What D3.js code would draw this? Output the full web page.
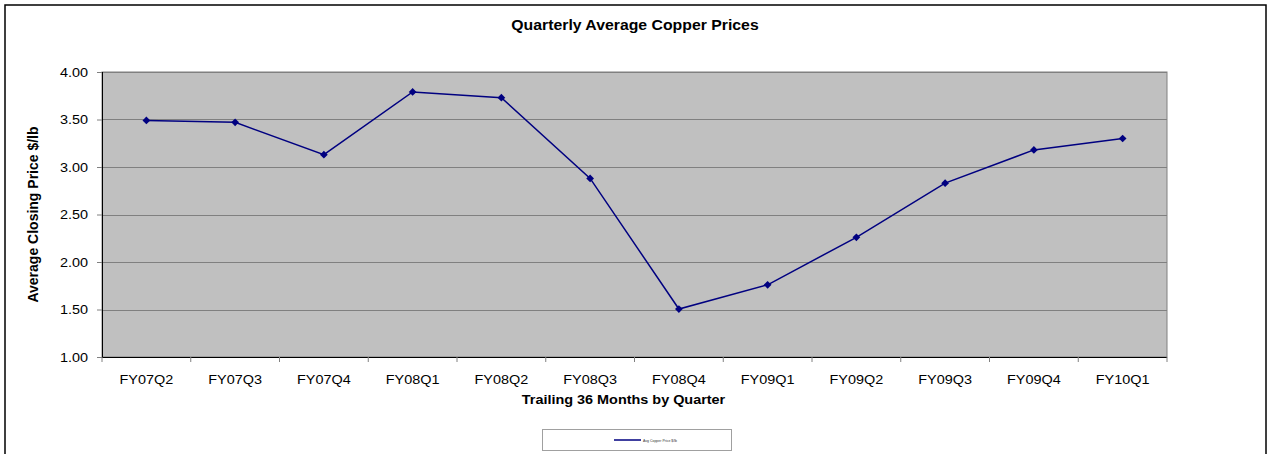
<!DOCTYPE html>
<html>
<head>
<meta charset="utf-8">
<script src="https://cdn.jsdelivr.net/npm/d3@7"></script>
<style>
  body { margin: 0; background: #fff; }
  text { font-family: "Liberation Sans", Arial, sans-serif; }
</style>
</head>
<body>
<script>
var quarters = ["FY07Q2", "FY07Q3", "FY07Q4", "FY08Q1", "FY08Q2", "FY08Q3",
                "FY08Q4", "FY09Q1", "FY09Q2", "FY09Q3", "FY09Q4", "FY10Q1"];
var prices = [3.49, 3.47, 3.13, 3.79, 3.73, 2.88, 1.505, 1.76, 2.26, 2.83, 3.18, 3.30];
var yTicks = [1.00, 1.50, 2.00, 2.50, 3.00, 3.50, 4.00];

var width = 1270, height = 454;
var plotLeft = 102, plotRight = 1167, plotTop = 72, plotBottom = 357;
var stretch = 1.11; // text in the original looks a bit wide

var svg = d3.select("body")
    .append("svg")
    .attr("width", width)
    .attr("height", height);

// outer chart border
svg.append("rect")
    .attr("x", 5).attr("y", 5)
    .attr("width", 1261).attr("height", 460)
    .attr("fill", "#fff")
    .attr("stroke", "#000")
    .attr("stroke-width", 1.5);

var x = d3.scaleBand().domain(quarters).range([plotLeft, plotRight]);
var y = d3.scaleLinear().domain([1, 4]).range([plotBottom, plotTop]);

svg.append("rect")
    .attr("x", plotLeft).attr("y", plotTop)
    .attr("width", plotRight - plotLeft).attr("height", plotBottom - plotTop)
    .attr("fill", "#c0c0c0")
    .attr("stroke", "#808080")
    .attr("stroke-width", 1);

svg.append("g")
    .selectAll("line")
    .data(yTicks)
    .enter()
    .append("line")
    .attr("x1", plotLeft).attr("x2", plotRight)
    .attr("y1", function(d) { return Math.round(y(d)) + 0.5; })
    .attr("y2", function(d) { return Math.round(y(d)) + 0.5; })
    .attr("stroke", "#808080")
    .attr("stroke-width", 1.2);

var yAxis = svg.append("g")
    .attr("transform", "translate(" + plotLeft + ",0)")
    .call(d3.axisLeft(y).tickValues(yTicks).tickSize(5).tickPadding(7.5)
        .tickFormat(d3.format(".2f")));
yAxis.select(".domain").attr("stroke", "#000").attr("d", "M0.5," + plotTop + "V" + plotBottom);
yAxis.selectAll("line").attr("stroke", "#808080");
yAxis.selectAll("text").attr("font-size", "13px").attr("fill", "#000")
    .attr("font-family", "Liberation Sans, Arial, sans-serif")
    .attr("transform", "scale(" + stretch + ",1)");

var xAxis = svg.append("g")
    .attr("transform", "translate(0," + plotBottom + ")");
xAxis.append("line")
    .attr("x1", plotLeft).attr("x2", plotRight)
    .attr("y1", 0.5).attr("y2", 0.5)
    .attr("stroke", "#000");
xAxis.selectAll(".tk")
    .data(quarters.concat(["end"]))
    .enter()
    .append("line")
    .attr("class", "tk")
    .attr("x1", function(d, i) { return i < quarters.length ? x(d) : plotRight; })
    .attr("x2", function(d, i) { return i < quarters.length ? x(d) : plotRight; })
    .attr("y1", 0).attr("y2", 5)
    .attr("stroke", "#808080");
xAxis.selectAll("text")
    .data(quarters)
    .enter()
    .append("text")
    .attr("transform", function(d) {
        return "translate(" + (x(d) + x.bandwidth() / 2) + ",27) scale(" + stretch + ",1)";
    })
    .attr("text-anchor", "middle")
    .attr("font-size", "13px")
    .text(function(d) { return d; });

var line = d3.line()
    .x(function(d, i) { return x(quarters[i]) + x.bandwidth() / 2; })
    .y(function(d) { return y(d); });

svg.append("path")
    .datum(prices)
    .attr("d", line)
    .attr("fill", "none")
    .attr("stroke", "#000080")
    .attr("stroke-width", 1.5);

svg.selectAll(".pt")
    .data(prices)
    .enter()
    .append("path")
    .attr("class", "pt")
    .attr("d", d3.symbol().type(d3.symbolSquare).size(30))
    .attr("transform", function(d, i) {
        return "translate(" + (x(quarters[i]) + x.bandwidth() / 2) + "," + y(d) + ") rotate(45)";
    })
    .attr("fill", "#000080");

svg.append("text")
    .attr("transform", "translate(635,30) scale(1.13,1)")
    .attr("text-anchor", "middle")
    .attr("font-size", "14px")
    .attr("font-weight", "bold")
    .text("Quarterly Average Copper Prices");

svg.append("text")
    .attr("transform", "translate(38," + ((plotTop + plotBottom) / 2) + ") rotate(-90)")
    .attr("text-anchor", "middle")
    .attr("font-size", "14px")
    .attr("font-weight", "bold")
    .text("Average Closing Price $/lb");

svg.append("text")
    .attr("transform", "translate(" + ((plotLeft + plotRight) / 2 - 11) + ",404) scale(" + stretch + ",1)")
    .attr("text-anchor", "middle")
    .attr("font-size", "13px")
    .attr("font-weight", "bold")
    .text("Trailing 36 Months by Quarter");

// legend
var legend = svg.append("g");
legend.append("rect")
    .attr("x", 542.5).attr("y", 429.5)
    .attr("width", 189).attr("height", 21)
    .attr("fill", "#fff")
    .attr("stroke", "#a0a0a0");
legend.append("line")
    .attr("x1", 614).attr("x2", 641)
    .attr("y1", 440).attr("y2", 440)
    .attr("stroke", "#000080")
    .attr("stroke-width", 1.5);
legend.append("text")
    .attr("x", 643).attr("y", 441.5)
    .attr("font-size", "3.5px")
    .attr("fill", "#333")
    .text("Avg Copper Price $/lb");
</script>
</body>
</html>
